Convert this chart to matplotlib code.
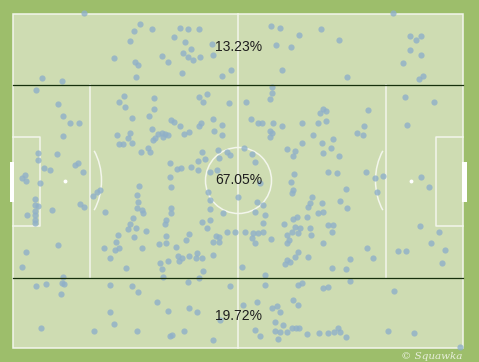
import matplotlib.pyplot as plt
from matplotlib.patches import Rectangle, Arc, Circle

# pitch coordinates: x along the touchline (0-450), y from top touchline (0-334)
PITCH_L = 450
PITCH_W = 334

zone_labels = ["13.23%", "67.05%", "19.72%"]
zone_edges = [71, 264]  # y where the black zone lines sit

top_zone = [
    (71, 0), (127, 11), (121, 18), (139, 16), (117, 28), (101, 45), (122, 49), (125, 52),
    (123, 64), (29, 65), (49, 68), (161, 24), (167, 15), (175, 16), (186, 16), (172, 29),
    (178, 36), (170, 40), (175, 44), (180, 47), (187, 44), (149, 43), (155, 49), (169, 60),
    (199, 31), (200, 42), (209, 63), (218, 57), (380, 0), (258, 13), (267, 15), (286, 22),
    (308, 16), (263, 32), (278, 34), (326, 27), (269, 57), (334, 64), (397, 23), (403, 27),
    (408, 23), (397, 37), (408, 42), (390, 50), (406, 66), (410, 63),
]

middle_zone = [
    (23, 77), (45, 91), (50, 103), (57, 110), (66, 110), (50, 123), (25, 140), (25, 147),
    (44, 141), (62, 152), (65, 150), (70, 159), (31, 155), (37, 157), (12, 162), (9, 165),
    (13, 168), (111, 83), (106, 89), (112, 94), (141, 85), (141, 96), (136, 103), (119, 105),
    (186, 84), (194, 81), (190, 89), (216, 90), (158, 107), (161, 109), (167, 113), (188, 110),
    (186, 113), (200, 106), (209, 112), (201, 118), (209, 122), (139, 116), (145, 121), (149, 120),
    (152, 121), (150, 124), (155, 122), (142, 125), (140, 127), (171, 121), (176, 119), (117, 120),
    (104, 122), (115, 125), (119, 130), (106, 131), (110, 131), (135, 135), (137, 139), (128, 139),
    (157, 150), (164, 156), (168, 155), (178, 154), (185, 148), (189, 139), (192, 146), (205, 137),
    (214, 139), (217, 142), (206, 145), (157, 164), (204, 157), (185, 157), (197, 159),
    (259, 74), (259, 80), (257, 86), (233, 89), (392, 84), (421, 89), (394, 112), (310, 96),
    (307, 100), (313, 98), (355, 97), (238, 106), (245, 110), (249, 110), (260, 110), (269, 113),
    (289, 110), (305, 110), (313, 108), (351, 113), (344, 120), (350, 122), (257, 118), (259, 120),
    (257, 124), (300, 122), (320, 126), (289, 130), (309, 130), (274, 136), (282, 138), (318, 135),
    (280, 143), (310, 140), (326, 143), (239, 141), (242, 149), (231, 135), (281, 161), (315, 159),
    (324, 160), (353, 159), (370, 163), (408, 164), (362, 165), (278, 169), (247, 170), (225, 184),
    (27, 170), (22, 186), (22, 192), (25, 193), (22, 198), (22, 202), (14, 202), (22, 207),
    (22, 210), (39, 197), (67, 191), (71, 194), (80, 183), (84, 179), (87, 177), (92, 199),
    (45, 232), (13, 239), (9, 254), (126, 173), (124, 182), (125, 189), (124, 195), (129, 197),
    (130, 200), (120, 205), (117, 211), (115, 216), (123, 215), (133, 218), (121, 224), (105, 222),
    (103, 229), (102, 237), (106, 235), (91, 235), (97, 245), (113, 255), (129, 235), (158, 174),
    (158, 195), (158, 200), (153, 207), (152, 211), (153, 223), (146, 231), (153, 230), (163, 234),
    (173, 227), (176, 221), (189, 209), (194, 215), (197, 207), (197, 196), (197, 187), (195, 179),
    (210, 200), (214, 219), (203, 223), (206, 224), (200, 229), (206, 229), (165, 243), (169, 245),
    (166, 248), (176, 243), (184, 240), (183, 245), (189, 245), (200, 242), (147, 250), (155, 248),
    (149, 256), (150, 264), (190, 258), (186, 265), (222, 219),
    (280, 177), (279, 180), (299, 184), (297, 190), (295, 194), (309, 190), (310, 199), (305, 200),
    (327, 188), (333, 176), (334, 195), (244, 189), (250, 192), (242, 199), (252, 202), (271, 211),
    (280, 206), (284, 204), (294, 204), (282, 214), (287, 215), (279, 219), (285, 220), (297, 215),
    (298, 222), (315, 212), (320, 212), (319, 219), (250, 210), (232, 219), (240, 220), (245, 220),
    (250, 219), (239, 225), (242, 230), (258, 226), (274, 222), (274, 230), (276, 227), (310, 230),
    (354, 235), (360, 245), (337, 246), (295, 244), (285, 239), (282, 244), (274, 247), (272, 251),
    (277, 249), (319, 255), (333, 256), (229, 254), (385, 238), (393, 238), (407, 213), (426, 219),
    (418, 230), (432, 237), (429, 250), (416, 174), (364, 179), (252, 262),
]

bottom_zone = [
    (50, 264), (49, 270), (51, 271), (48, 281), (23, 273), (33, 271), (97, 272), (119, 273),
    (125, 279), (175, 269), (144, 289), (155, 298), (176, 295), (184, 299), (97, 299), (101, 311),
    (28, 315), (81, 318), (124, 318), (157, 323), (159, 322), (171, 318), (200, 327), (217, 273),
    (207, 307), (230, 292), (252, 272), (285, 272), (289, 270), (310, 275), (315, 274), (337, 268),
    (381, 278), (244, 289), (259, 295), (264, 293), (267, 299), (280, 287), (285, 292), (242, 317),
    (247, 323), (262, 309), (270, 312), (262, 318), (267, 319), (274, 319), (279, 315), (283, 315),
    (286, 315), (294, 321), (306, 320), (315, 320), (321, 319), (325, 315), (327, 319), (333, 324),
    (265, 326), (375, 318), (401, 320), (447, 334),
]

BORDER = "#9dbe6b"
GRASS = "#cedcb2"
LINE = "#f3f6ec"
DOT = "#8fb0c9"

fig = plt.figure(figsize=(4.79, 3.62), dpi=100)
fig.patch.set_facecolor(BORDER)
ax = fig.add_axes([0, 0, 1, 1])
ax.set_facecolor(BORDER)

lw = 1.1
ax.add_patch(Rectangle((0, 0), PITCH_L, PITCH_W, facecolor=GRASS, edgecolor=LINE, lw=lw, zorder=1))
ax.plot([PITCH_L / 2, PITCH_L / 2], [0, PITCH_W], color=LINE, lw=lw, zorder=2)
ax.add_patch(Circle((PITCH_L / 2, PITCH_W / 2), 33, fill=False, edgecolor=LINE, lw=lw, zorder=2))

# boxes, spots, arcs and goals for both ends
for side in [0, 1]:
    def fx(x):
        return x if side == 0 else PITCH_L - x
    box_x = fx(77)
    ax.plot([box_x, box_x], [zone_edges[0], zone_edges[1]], color=LINE, lw=lw, zorder=2)
    six_x = fx(27)
    ax.plot([fx(0), six_x, six_x, fx(0)], [123, 123, 212, 212], color=LINE, lw=lw, zorder=2)
    ax.plot(fx(52), PITCH_W / 2, "o", color="white", ms=1.8, zorder=2)
    t1, t2 = (-46, 46) if side == 0 else (134, 226)
    ax.add_patch(Arc((fx(52), PITCH_W / 2), 72, 98, theta1=t1, theta2=t2,
                     edgecolor=LINE, lw=lw, zorder=2))
    gx = -3.5 if side == 0 else PITCH_L - 1
    ax.add_patch(Rectangle((gx, 148), 4.5, 40, facecolor="white", edgecolor="none", zorder=2))

for zone in [top_zone, middle_zone, bottom_zone]:
    xs = [p[0] for p in zone]
    ys = [p[1] for p in zone]
    ax.scatter(xs, ys, s=20, color=DOT, alpha=0.8, edgecolors="none", zorder=3)

for y in zone_edges:
    ax.plot([0, PITCH_L], [y, y], color="#16300c", lw=0.9, zorder=4)

label_y = [zone_edges[0] / 2 - 2, PITCH_W / 2, (zone_edges[1] + PITCH_W) / 2 + 3]
for lab, y in zip(zone_labels, label_y):
    ax.text(PITCH_L / 2, y, lab, ha="center", va="center", fontsize=10,
            family="Liberation Sans", color="#1e1e1e", zorder=5)

ax.text(PITCH_L - 1, PITCH_W + 9, "\u00a9 Squawka", ha="right", va="center", fontsize=7.5,
        family="DejaVu Serif", style="italic", color="#e8efdc", zorder=5)

ax.set_xlim(-13.5, PITCH_L + 15.5)
ax.set_ylim(PITCH_W + 14.5, -13.5)
ax.axis("off")

plt.savefig("out.png", dpi=100, facecolor=BORDER)
